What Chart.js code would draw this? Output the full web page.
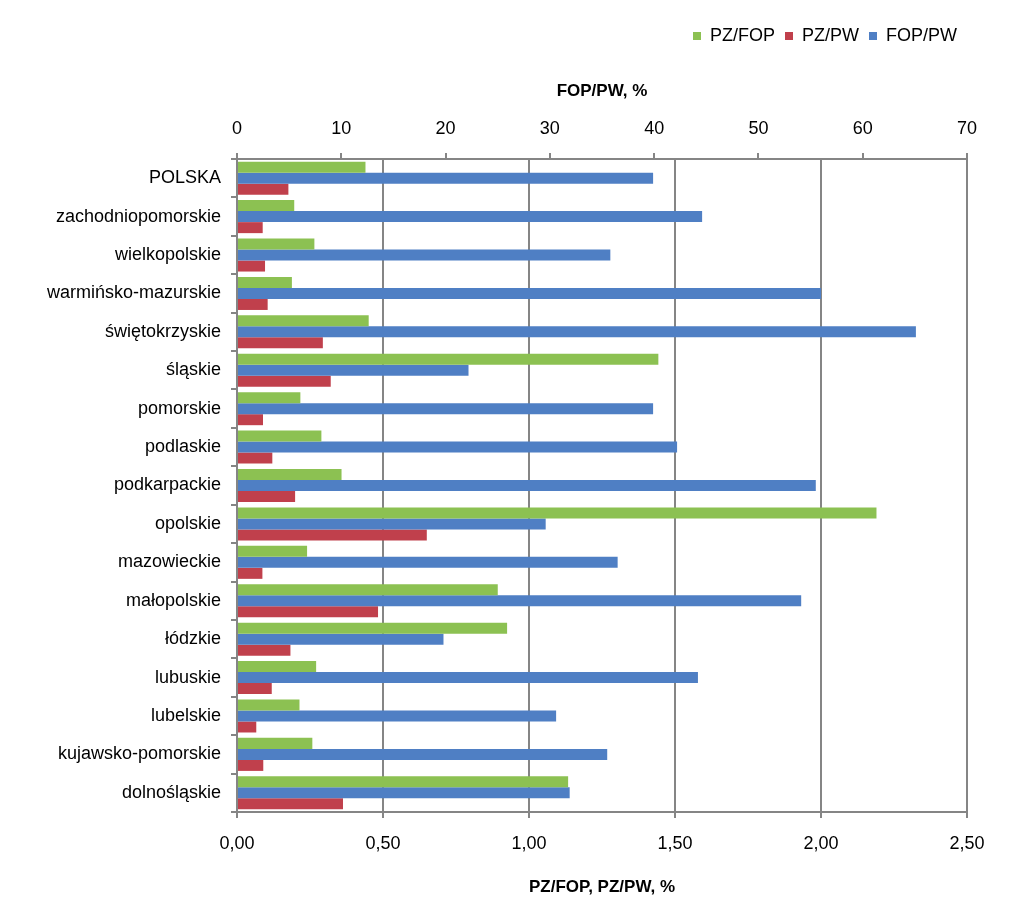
<!DOCTYPE html>
<html>
<head>
<meta charset="utf-8">
<script src="https://cdn.jsdelivr.net/npm/chart.js@4/dist/chart.umd.min.js"></script>
<style>
  html, body { margin: 0; padding: 0; background: #fff; }
  #wrap { width: 1024px; height: 911px; position: relative; }
</style>
</head>
<body>
<div id="wrap"><canvas id="chart"></canvas></div>
<script>
// --- DATA ---
const regions = ['POLSKA', 'zachodniopomorskie', 'wielkopolskie', 'warmińsko-mazurskie', 'świętokrzyskie',
  'śląskie', 'pomorskie', 'podlaskie', 'podkarpackie', 'opolskie', 'mazowieckie', 'małopolskie',
  'łódzkie', 'lubuskie', 'lubelskie', 'kujawsko-pomorskie', 'dolnośląskie'];
const pzFop = [0.44, 0.196, 0.265, 0.188, 0.451, 1.443, 0.217, 0.289, 0.358, 2.19, 0.24, 0.893, 0.925, 0.271, 0.214, 0.258, 1.134];
const pzPw  = [0.176, 0.088, 0.096, 0.105, 0.294, 0.321, 0.089, 0.121, 0.199, 0.65, 0.087, 0.483, 0.183, 0.119, 0.066, 0.09, 0.363];
const fopPw = [39.9, 44.6, 35.8, 56.0, 65.1, 22.2, 39.9, 42.2, 55.5, 29.6, 36.5, 54.1, 19.8, 44.2, 30.6, 35.5, 31.9];
const legendOrder = ['PZ/FOP', 'PZ/PW', 'FOP/PW'];

const GREEN = '#8cc152', RED = '#c0404c', BLUE = '#4f7fc4', GRID = '#858585';
const font = { family: 'Liberation Sans, Arial, sans-serif', size: 18 };
const boldFont = { family: 'Liberation Sans, Arial, sans-serif', size: 17, weight: 'bold' };

// extra room under the legend
const legendGap = {
  id: 'legendGap',
  beforeInit(chart) {
    const fit = chart.legend.fit;
    chart.legend.fit = function () { fit.call(this); this.height += 26; };
  }
};

new Chart(document.getElementById('chart'), {
  type: 'bar',
  data: {
    labels: regions,
    datasets: [
      { label: 'PZ/FOP', data: pzFop, backgroundColor: GREEN, xAxisID: 'x' },
      { label: 'FOP/PW', data: fopPw, backgroundColor: BLUE, xAxisID: 'x2' },
      { label: 'PZ/PW', data: pzPw, backgroundColor: RED, xAxisID: 'x' }
    ]
  },
  options: {
    indexAxis: 'y',
    responsive: true,
    maintainAspectRatio: false,
    animation: false,
    datasets: { bar: { barPercentage: 1, categoryPercentage: 0.86 } },
    layout: { padding: { left: 12, right: 57, top: 17, bottom: 13 } },
    plugins: {
      tooltip: { enabled: false },
      legend: {
        position: 'top', align: 'end',
        labels: {
          color: '#000', font, boxWidth: 8, boxHeight: 8, padding: 10,
          sort: (a, b) => legendOrder.indexOf(a.text) - legendOrder.indexOf(b.text)
        }
      }
    },
    scales: {
      x: {
        position: 'bottom', min: 0, max: 2.5,
        ticks: { stepSize: 0.5, color: '#000', font, padding: 15,
          callback: v => v.toFixed(2).replace('.', ',') },
        grid: { color: GRID, lineWidth: 2, tickLength: 6 },
        border: { color: GRID, width: 2 },
        title: { display: true, text: 'PZ/FOP, PZ/PW, %', color: '#000',
          font: boldFont, padding: { top: 8, bottom: 0 } }
      },
      x2: {
        position: 'top', min: 0, max: 70,
        ticks: { stepSize: 10, color: '#000', font, padding: 13 },
        grid: { drawOnChartArea: false, color: GRID, lineWidth: 2, tickLength: 6 },
        border: { color: GRID, width: 2 },
        title: { display: true, text: 'FOP/PW, %', color: '#000',
          font: boldFont, padding: { top: 0, bottom: 4 } }
      },
      y: {
        afterFit: s => { s.width = 225; },
        ticks: { color: '#000', font, padding: 10 },
        grid: { offset: true, drawOnChartArea: false, color: GRID, lineWidth: 2, tickLength: 6 },
        border: { color: GRID, width: 2 }
      }
    }
  },
  plugins: [legendGap]
});
</script>
</body>
</html>
